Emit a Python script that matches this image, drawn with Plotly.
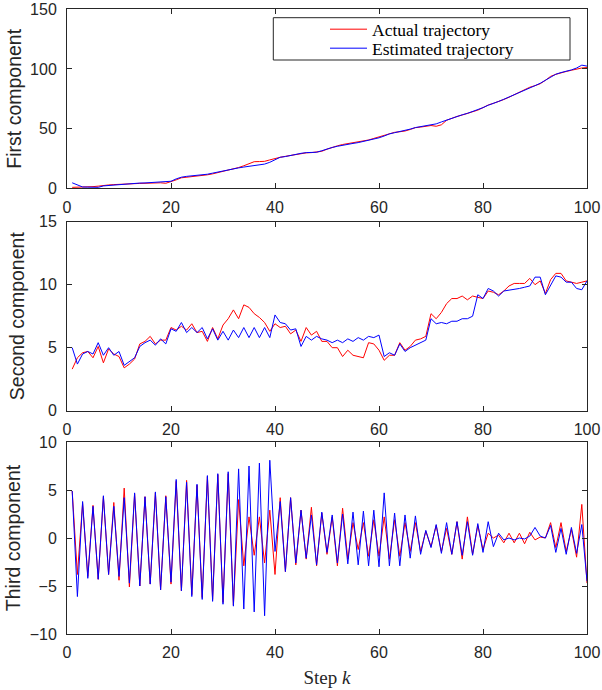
import plotly.graph_objects as go

steps = list(range(1, 101))

actual_first = [0.8, 0.8, 0.9, 1.0, 1.4, 1.8, 2.5, 2.8, 3.1, 3.4,
                3.7, 3.9, 4.0, 4.1, 4.2, 4.5, 4.8, 4.6, 4.2, 5.4,
                7.1, 8.8, 9.2, 9.6, 10.2, 10.7, 11.3, 12.1, 13.1, 14.1,
                15.0, 16.1, 17.4, 18.9, 20.7, 22.3, 22.4, 22.6, 23.8, 25.1,
                26.0, 26.8, 27.5, 28.5, 29.0, 29.7, 29.9, 30.2, 31.0, 32.8,
                34.5, 35.6, 36.7, 37.4, 38.1, 39.0, 39.8, 40.5, 41.8, 43.0,
                44.4, 45.8, 46.9, 47.4, 48.0, 49.3, 50.8, 51.3, 51.7, 52.6,
                52.0, 53.2, 57.0, 58.8, 60.2, 61.4, 62.7, 64.0, 65.5, 67.6,
                69.8, 71.2, 72.6, 74.4, 76.3, 78.4, 80.5, 82.8, 84.7, 86.0,
                87.6, 90.5, 93.8, 95.5, 96.9, 97.9, 98.9, 100.0, 100.8, 101.2]
estimated_first = [4.6, 3.1, 1.1, 1.0, 0.8, 0.8, 2.0, 2.4, 2.8, 3.3,
                   3.7, 4.0, 4.2, 4.4, 4.5, 4.8, 5.1, 5.3, 5.4, 5.9,
                   7.9, 9.3, 10.0, 10.5, 10.8, 11.0, 11.8, 12.7, 13.7, 14.7,
                   15.5, 16.4, 17.1, 17.8, 18.4, 18.9, 19.6, 20.3, 21.8, 24.0,
                   26.0, 26.6, 27.6, 28.8, 29.3, 29.9, 30.0, 30.2, 31.5, 33.0,
                   34.2, 35.2, 36.2, 37.0, 37.6, 38.3, 39.2, 40.2, 41.2, 42.3,
                   43.8, 45.6, 46.6, 47.5, 48.3, 49.6, 50.9, 51.8, 52.3, 53.2,
                   54.0, 55.6, 57.2, 58.8, 60.3, 61.6, 62.8, 64.2, 65.8, 67.6,
                   69.6, 71.0, 72.8, 74.6, 76.4, 78.2, 80.0, 81.8, 83.8, 86.0,
                   88.0, 90.6, 93.6, 95.6, 97.0, 98.0, 99.2, 100.8, 103.2, 102.4]

actual_second = [3.3, 4.2, 4.6, 4.7, 4.2, 5.1, 3.8, 4.9, 4.5, 4.3,
                 3.4, 3.7, 4.1, 5.3, 5.5, 5.9, 5.3, 5.6, 5.6, 6.6,
                 6.4, 6.7, 6.4, 6.9, 6.2, 6.3, 5.5, 6.6, 5.7, 6.8,
                 7.3, 8.0, 7.3, 8.4, 8.2, 7.7, 7.4, 7.0, 6.3, 6.9,
                 6.6, 6.7, 6.1, 6.4, 5.5, 6.6, 6.0, 6.3, 5.5, 5.5,
                 5.0, 5.0, 4.3, 4.8, 4.4, 4.3, 4.2, 5.4, 5.3, 4.8,
                 4.0, 4.4, 4.4, 5.4, 4.8, 5.1, 5.6, 5.7, 5.9, 7.7,
                 7.3, 7.8, 8.5, 8.9, 8.9, 9.1, 8.8, 9.1, 9.0, 8.9,
                 9.5, 9.4, 9.2, 9.5, 9.9, 10.1, 10.1, 10.1, 10.5, 10.0,
                 10.3, 9.3, 10.4, 10.9, 10.9, 10.3, 10.2, 10.1, 10.2, 10.3]
estimated_second = [5.0, 3.7, 4.5, 4.7, 4.5, 5.4, 4.4, 5.0, 4.4, 4.7,
                    3.6, 3.9, 4.2, 5.1, 5.4, 5.6, 5.2, 5.7, 5.3, 6.5,
                    6.3, 7.0, 6.2, 6.6, 6.2, 6.6, 5.7, 6.5, 5.6, 6.3,
                    5.6, 6.4, 5.8, 6.6, 5.8, 6.6, 5.8, 6.6, 5.8, 7.6,
                    7.0, 6.9, 6.4, 6.5, 5.1, 5.9, 5.6, 5.9, 5.7, 5.6,
                    5.4, 5.6, 5.4, 5.7, 5.5, 5.8, 5.6, 5.9, 5.8, 6.0,
                    4.3, 4.6, 4.4, 5.3, 4.7, 5.0, 5.2, 5.4, 5.6, 7.3,
                    6.9, 7.0, 6.9, 7.1, 7.1, 7.3, 7.3, 7.5, 9.2, 8.9,
                    9.7, 9.5, 9.1, 9.5, 9.55, 9.65, 9.7, 9.8, 9.9, 10.6,
                    10.6, 9.2, 10.0, 10.7, 10.6, 10.2, 10.2, 9.7, 9.6, 10.3]

actual_third = [4.9, -3.8, 3.6, -4.0, 3.4, -4.3, 4.3, -3.8, 3.7, -4.4,
                5.2, -5.1, 4.6, -5.0, 4.3, -4.8, 4.7, -5.4, 4.4, -4.8,
                5.9, -5.5, 6.0, -5.9, 5.5, -6.2, 6.4, -6.4, 6.6, -6.7,
                6.7, -7.0, 4.0, -2.9, 2.2, -1.8, 2.2, -2.6, 2.9, -3.8,
                4.2, -3.5, 4.2, -2.8, 2.9, -2.2, 3.2, -2.9, 2.6, -1.7,
                2.2, -2.9, 3.1, -2.2, 1.6, -1.2, 1.6, -1.9, 1.9, -1.9,
                2.2, -2.2, 1.9, -1.9, 1.6, -1.4, 1.6, -1.4, 0.7, -0.9,
                1.3, -1.4, 1.0, -1.7, 1.7, -2.2, 2.2, -1.7, 1.3, -1.2,
                0.5, 0.0, 0.3, -0.5, 0.5, -0.5, 0.5, -0.6, 0.6, -0.2,
                0.1, 0.0, 1.6, -1.0, 1.6, -1.4, 0.9, -2.0, 3.5, -4.7]
estimated_third = [4.9, -6.1, 3.8, -4.2, 3.3, -4.3, 4.4, -3.8, 3.3, -4.0,
                   4.2, -4.7, 4.7, -5.0, 4.3, -4.8, 4.8, -5.4, 4.3, -4.6,
                   6.1, -5.5, 5.8, -6.1, 5.6, -6.4, 6.5, -6.6, 6.7, -6.9,
                   6.9, -7.1, 7.2, -7.4, 7.5, -7.7, 7.8, -8.1, 8.1, -1.4,
                   3.8, -3.5, 4.2, -2.6, 2.9, -2.1, 2.4, -2.8, 2.7, -1.5,
                   2.4, -2.6, 2.5, -2.7, 2.7, -2.8, 2.8, -2.9, 2.9, -3.0,
                   4.7, -2.9, 2.6, -2.9, 2.4, -2.1, 2.3, -1.7, 0.8, -1.0,
                   1.4, -1.6, 1.6, -1.7, 1.7, -1.8, 1.7, -1.8, 1.5, -1.5,
                   1.7, -0.9, 0.5, -0.2, 0.0, -0.2, 0.0, -0.1, 0.2, 1.1,
                   0.2, 0.0, 1.3, -1.5, 1.0, -1.7, 1.1, -1.6, 1.4, -4.5]

panel_titles = ["First component", "Second component", "Third component"]
y_ranges = [[0, 150], [0, 15], [-10, 10]]
y_dticks = [50, 5, 5]
x_ticks = [0, 20, 40, 60, 80, 100]
series_names = ["Actual trajectory", "Estimated trajectory"]

W, H = 602, 690
ML, MR, MT, MB = 67, 15, 8, 56
PW, PH = W - ML - MR, H - MT - MB


def py(px):
    return (H - MB - px) / PH


def pxx(px):
    return (px - ML) / PW


domains = [[py(188.3), py(9.3)], [py(410.7), py(221.7)], [py(634.0), py(442.0)]]
title_standoffs = [3, 9, 3]

pairs = [(actual_first, estimated_first), (actual_second, estimated_second),
         (actual_third, estimated_third)]

fig = go.Figure()
for i, (act, est) in enumerate(pairs):
    xa = "x" if i == 0 else f"x{i+1}"
    ya = "y" if i == 0 else f"y{i+1}"
    fig.add_trace(go.Scatter(x=steps, y=act, mode="lines", name=series_names[0],
                             line=dict(color="#FF0000", width=1),
                             xaxis=xa, yaxis=ya, showlegend=(i == 0), legend="legend"))
    fig.add_trace(go.Scatter(x=steps, y=est, mode="lines", name=series_names[1],
                             line=dict(color="#0000FF", width=1),
                             xaxis=xa, yaxis=ya, showlegend=(i == 0), legend="legend2"))

axcol = "#262626"
tickfont = dict(family="Liberation Sans", size=16, color=axcol)
common = dict(showline=True, linecolor=axcol, linewidth=1, mirror="ticks",
              ticks="inside", ticklen=5, tickcolor=axcol, tickwidth=1,
              showgrid=False, zeroline=False, tickfont=tickfont)

layout = {}
for i in range(3):
    xk = "xaxis" if i == 0 else f"xaxis{i+1}"
    yk = "yaxis" if i == 0 else f"yaxis{i+1}"
    ya = "y" if i == 0 else f"y{i+1}"
    xa = "x" if i == 0 else f"x{i+1}"
    xd = dict(common, range=[0, 100], tickvals=x_ticks, domain=[0, 1], anchor=ya,
              ticklabelstandoff=4)
    if i == 2:
        xd["title"] = dict(text="Step <i>k</i>", standoff=10,
                           font=dict(family="Liberation Serif", size=19, color=axcol))
    layout[xk] = xd
    layout[yk] = dict(common, range=y_ranges[i], dtick=y_dticks[i], tick0=0,
                      domain=domains[i], anchor=xa, ticklabelstandoff=6,
                      title=dict(text=panel_titles[i], standoff=title_standoffs[i],
                                 font=dict(family="Liberation Sans", size=19.5, color=axcol)))

legfont = dict(family="Liberation Serif", size=17.5, color="black")
fig.update_layout(
    width=W, height=H,
    margin=dict(l=ML, r=MR, t=MT, b=MB, autoexpand=False),
    paper_bgcolor="white", plot_bgcolor="white",
    legend=dict(x=pxx(325), y=py(29.3), xanchor="left", yanchor="middle",
                bgcolor="rgba(0,0,0,0)", borderwidth=0, font=legfont, itemwidth=37),
    legend2=dict(x=pxx(325), y=py(48.3), xanchor="left", yanchor="middle",
                 bgcolor="rgba(0,0,0,0)", borderwidth=0, font=legfont, itemwidth=37),
    shapes=[dict(type="rect", xref="paper", yref="paper",
                 x0=pxx(273.3), x1=pxx(570), y0=py(60), y1=py(17.7),
                 line=dict(color=axcol, width=1), fillcolor="white", layer="below")],
    **layout,
)

fig.write_html("out.html")
